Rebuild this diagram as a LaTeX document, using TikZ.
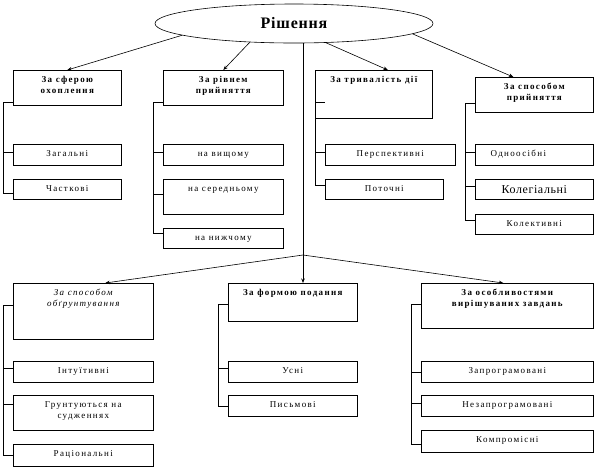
\documentclass[tikz,border=0pt]{standalone}
\usepackage{fontspec}
\setmainfont{Liberation Serif}
\newfontfamily\boxfont[LetterSpace=15]{Liberation Serif}
\newfontfamily\bigfont[LetterSpace=5]{Liberation Serif}
\usetikzlibrary{arrows.meta,shapes.geometric}

% text at the top of a box: width, height, text
\newcommand{\vtext}[3]{\parbox[c][#2][t]{#1}{\centering\vspace*{4pt}\strut#3}}

\tikzset{
  rozdil/.style={draw,anchor=north west,inner sep=0pt,font=\boxfont\fontsize{9pt}{11pt}\selectfont\bfseries},
  vyd/.style={draw,anchor=north west,inner sep=0pt,font=\boxfont\fontsize{9pt}{11pt}\selectfont},
}

\begin{document}
\begin{tikzpicture}[x=1pt,y=-1pt,line width=0.6pt,>={Stealth[length=4.5pt,width=3.5pt]}]
  \useasboundingbox (0,0) rectangle (599,467);
  %korin
  \node[draw,ellipse,minimum width=278pt,minimum height=39pt,inner sep=0pt,
        font=\bigfont\fontsize{16pt}{18pt}\selectfont\bfseries] (rish) at (294,23.5) {Рішення};

  %verhnii riad
  \node[rozdil] (sfera) at (13,70)  {\vtext{108pt}{35pt}{За сферою\\охоплення}};
  \node[rozdil] (riv)   at (163,70) {\vtext{120pt}{35pt}{За рівнем\\прийняття}};
  \node[rozdil] (tryv)  at (315,70) {\vtext{117pt}{48pt}{За тривалість дії}};
  \node[rozdil] (sposib) at (475,77) {\vtext{118pt}{35pt}{За способом\\прийняття}};

  \draw[->] (rish.186) -- (sfera.north);
  \draw[->] (rish.203) -- (riv.north);
  \draw[->] (rish.329) -- ([xshift=14pt]tryv.north);
  \draw[->] (rish.355) -- ([xshift=-21pt]sposib.north);

  %za sferoiu
  \node[vyd] (zag)   at (13,144) {\vtext{108pt}{21pt}{Загальні}};
  \node[vyd] (chast) at (13,179) {\vtext{108pt}{20pt}{Часткові}};
  \coordinate (k1) at (3,102);
  \draw (k1) -- (k1 -| sfera.west);
  \draw (k1) |- ([yshift=3pt]zag.west);
  \draw (k1) |- ([yshift=-4pt]chast.west);

  %za rivnem
  \node[vyd] (vysh)  at (163,144) {\vtext{120pt}{21pt}{на вищому}};
  \node[vyd] (sered) at (163,179) {\vtext{120pt}{35pt}{на середньому}};
  \node[vyd] (nyzh)  at (163,228) {\vtext{120pt}{20pt}{на нижчому}};
  \coordinate (k2) at (153,102);
  \draw (k2) -- (k2 -| riv.west);
  \draw (k2) |- ([yshift=3pt]vysh.west);
  \draw (k2) |- ([yshift=3pt]sered.west);
  \draw (k2) |- ([yshift=5pt]nyzh.west);

  %za tryvalistiu
  \node[vyd] (persp)  at (325,144) {\vtext{130pt}{21pt}{Перспективні}};
  \node[vyd] (potoch) at (325,179) {\vtext{118pt}{20pt}{Поточні}};
  \coordinate (k3) at (315,102);
  \coordinate (k3t) at (325,102);
  \draw (k3) -- (k3t);
  \draw (k3) |- ([yshift=3pt]persp.west);
  \draw (k3) |- ([yshift=4pt]potoch.west);

  %za sposobom pryiniattia
  \node[vyd] (odno)   at (475,144) {\vtext{118pt}{21pt}{Одноосібні\hspace*{32pt}}};
  \node[vyd,font=\bigfont\fontsize{12pt}{14pt}\selectfont] (koleg) at (475,179) {\vtext{118pt}{20pt}{Колегіальні}};
  \node[vyd] (kolekt) at (475,214) {\vtext{118pt}{20pt}{Колективні}};
  \coordinate (k4) at (465,103);
  \draw (k4) -- (k4 -| sposib.west);
  \draw (k4) |- ([yshift=3pt]odno.west);
  \draw (k4) |- ([yshift=3pt]koleg.west);
  \draw (k4) |- ([yshift=4pt]kolekt.west);

  %nyzhnii riad
  \node[rozdil,font=\boxfont\fontsize{9pt}{11pt}\selectfont\itshape] (obgr) at (13,283) {\vtext{140pt}{56pt}{За способом\\обґрунтування}};
  \node[rozdil] (forma) at (228,283) {\vtext{129pt}{38pt}{За формою подання}};
  \node[rozdil] (osob)  at (421,283) {\vtext{172pt}{45pt}{За особливостями\\вирішуваних завдань}};

  \coordinate (rozg) at (303,255);
  \draw (rozg |- rish.south) -- (rozg);
  \draw[->] (rozg) -- ([xshift=22pt]obgr.north);
  \draw[->] (rozg) -- (rozg |- forma.north);
  \draw[->] (rozg) -- ([xshift=-4pt]osob.north);

  %za sposobom obgruntuvannia
  \node[vyd] (intu)  at (13,361) {\vtext{140pt}{21pt}{Інтуїтивні}};
  \node[vyd] (grunt) at (13,395) {\vtext{140pt}{35pt}{Грунтуються на\\судженнях}};
  \node[vyd] (rac)   at (13,444) {\vtext{140pt}{22pt}{Раціональні}};
  \coordinate (k5) at (3,305);
  \draw (k5) -- (k5 -| obgr.west);
  \draw (k5) |- ([yshift=4pt]intu.west);
  \draw (k5) |- ([yshift=9pt]grunt.west);
  \draw (k5) |- (rac.west);

  %za formoiu
  \node[vyd] (usni) at (228,361) {\vtext{129pt}{21pt}{Усні}};
  \node[vyd] (pysm) at (228,395) {\vtext{129pt}{21pt}{Письмові}};
  \coordinate (k6) at (218,304);
  \draw (k6) -- (k6 -| forma.west);
  \draw (k6) |- ([yshift=4pt]usni.west);
  \draw (k6) |- (pysm.west);

  %za osoblyvostiamy
  \node[vyd] (zaprog) at (421,361) {\vtext{172pt}{21pt}{Запрограмовані}};
  \node[vyd] (nezap)  at (421,395) {\vtext{172pt}{21pt}{Незапрограмовані}};
  \node[vyd] (kompr)  at (421,430) {\vtext{172pt}{22pt}{Компромісні}};
  \coordinate (k7) at (411,304);
  \draw (k7) -- (k7 -| osob.west);
  \draw (k7) |- (zaprog.west);
  \draw (k7) |- ([yshift=3pt]nezap.west);
  \draw (k7) |- ([yshift=-3pt]kompr.west);
\end{tikzpicture}
\end{document}
